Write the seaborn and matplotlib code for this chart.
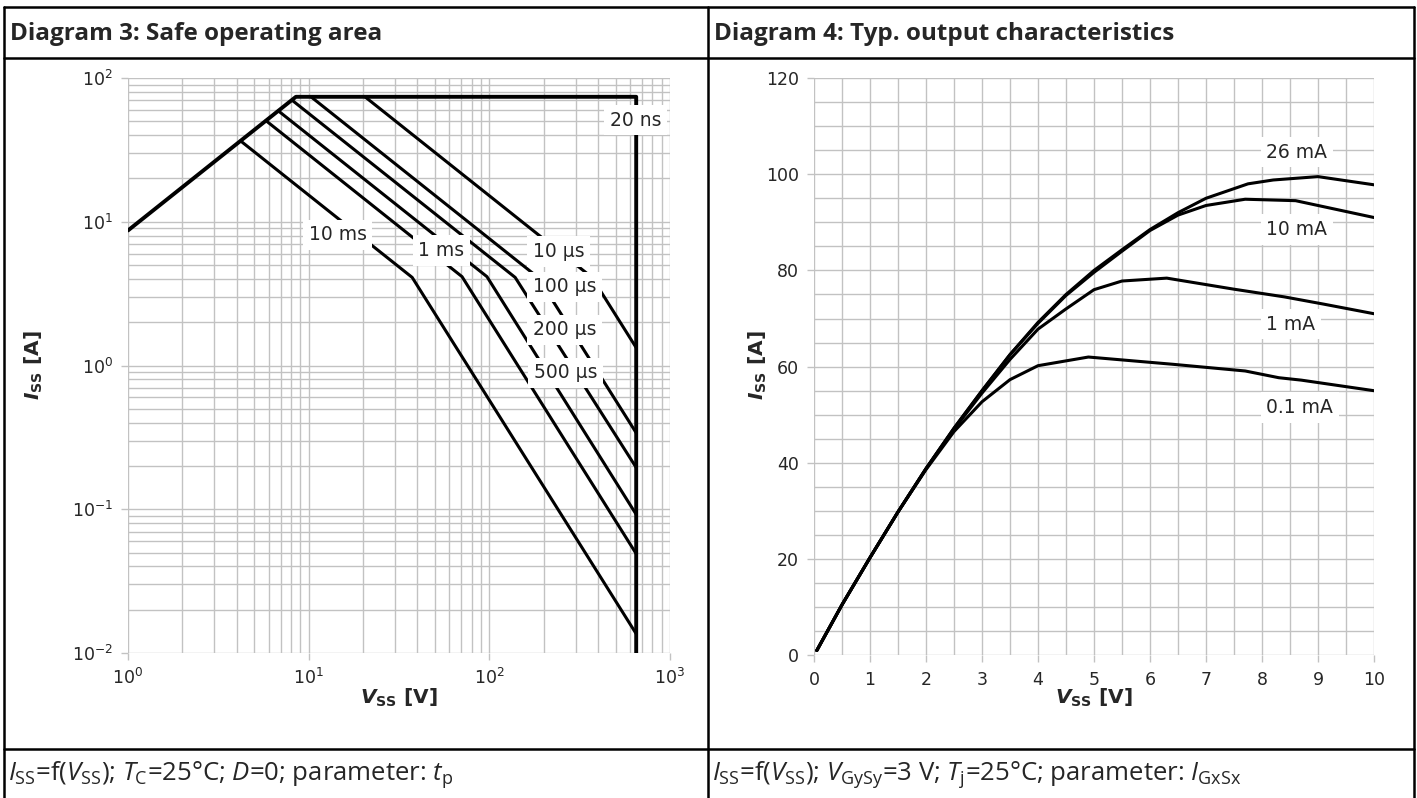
import numpy as np
import pandas as pd
import matplotlib
matplotlib.use("Agg")
import matplotlib.pyplot as plt
import seaborn as sns
from matplotlib.lines import Line2D
from matplotlib.ticker import MultipleLocator, NullFormatter, LogLocator

# ---- Diagram 3: safe operating area (log-log), vertices
soa_names = ["20 ns", "10 µs", "100 µs", "200 µs", "500 µs", "1 ms", "10 ms"]
soa_v = [
    [1.0, 8.5, 650, 650],
    [20.5, 370, 650],
    [10.3, 186, 650],
    [8.1, 139, 650],
    [6.8, 97, 650],
    [5.8, 70.6, 650],
    [4.2, 37.4, 650],
]
soa_i = [
    [8.7, 74, 74, 0.01],
    [74, 4.1, 1.33],
    [74, 4.1, 0.34],
    [70, 4.1, 0.195],
    [59, 4.15, 0.092],
    [50.5, 4.15, 0.049],
    [36.5, 4.1, 0.0136],
]

# ---- Diagram 4: typical output characteristics
out_names = ["26 mA", "10 mA", "1 mA", "0.1 mA"]
out_v = [
    [0.05, 0.5, 1.0, 1.5, 2.0, 2.5, 3.0, 3.5, 4.0, 4.5, 5.0, 5.5, 6.0, 6.5, 7.0, 7.75, 8.2, 9.0, 10.0],
    [0.05, 0.5, 1.0, 1.5, 2.0, 2.5, 3.0, 3.5, 4.0, 4.5, 5.0, 5.5, 6.0, 6.5, 7.0, 7.7, 8.6, 9.0, 10.0],
    [0.05, 0.5, 1.0, 1.5, 2.0, 2.5, 3.0, 3.5, 4.0, 4.5, 5.0, 5.5, 6.3, 7.5, 8.4, 9.1, 10.0],
    [0.05, 0.5, 1.0, 1.5, 2.0, 2.5, 3.0, 3.5, 4.0, 4.9, 6.4, 7.7, 8.3, 8.7, 10.0],
]
out_i = [
    [1.0, 10.5, 20.3, 29.8, 38.8, 47.2, 55.0, 62.5, 69.2, 75.0, 80.0, 84.3, 88.5, 92.0, 95.0, 98.0, 98.8, 99.5, 97.8],
    [1.0, 10.5, 20.3, 29.8, 38.8, 47.2, 55.0, 62.5, 69.0, 74.8, 79.6, 84.0, 88.3, 91.5, 93.5, 94.8, 94.5, 93.5, 91.0],
    [1.0, 10.5, 20.3, 29.8, 38.8, 47.0, 54.5, 61.5, 67.8, 72.0, 76.0, 77.8, 78.4, 76.1, 74.5, 73.0, 71.0],
    [1.0, 10.5, 20.3, 29.8, 38.6, 46.5, 52.7, 57.3, 60.2, 62.0, 60.5, 59.1, 57.7, 57.2, 55.0],
]

W, H = 1417, 798


def fx(x):
    return x / W


def fy(y):
    return 1 - y / H


sns.set_theme(style="whitegrid")
plt.rcParams["font.family"] = ["DejaVu Sans"]
plt.rcParams["mathtext.rm"] = "Open Sans"
plt.rcParams["mathtext.it"] = "Open Sans:italic"
plt.rcParams["mathtext.bf"] = "Open Sans:bold"

GRID = "#c2c2c2"
HEAD_FONT = "Open Sans"

fig = plt.figure(figsize=(W / 100, H / 100), dpi=100)
fig.patch.set_facecolor("white")

ax1 = fig.add_axes([fx(128), fy(653), 542 / W, 575 / H])
ax2 = fig.add_axes([fx(814), fy(655.3), 560 / W, 577.3 / H])

# left: SOA
for name, v, i in zip(soa_names, soa_v, soa_i):
    df = pd.DataFrame({"V": v, "I": i})
    sns.lineplot(data=df, x="V", y="I", ax=ax1, color="black",
                 lw=2.8 if name == "20 ns" else 2.2,
                 estimator=None, sort=False, legend=False)
ax1.set_xscale("log")
ax1.set_yscale("log")
ax1.set_xlim(1, 1000)
ax1.set_ylim(0.01, 100)
ax1.xaxis.set_minor_locator(LogLocator(subs=np.arange(2, 10)))
ax1.yaxis.set_minor_locator(LogLocator(subs=np.arange(2, 10)))
ax1.xaxis.set_minor_formatter(NullFormatter())
ax1.yaxis.set_minor_formatter(NullFormatter())

soa_label_pos = {
    "20 ns": (465, 51), "10 ms": (10.0, 8.1), "1 ms": (40.5, 6.3),
    "10 µs": (174.5, 6.2), "100 µs": (174.5, 3.53), "200 µs": (174.5, 1.77),
    "500 µs": (176, 0.89),
}
for name, (x, y) in soa_label_pos.items():
    ax1.text(x, y, name, ha="left", va="center", fontsize=13.5, zorder=5,
             bbox=dict(boxstyle="square,pad=0.3", fc="white", ec="none"))

# right: output characteristics
for name, v, i in zip(out_names, out_v, out_i):
    df = pd.DataFrame({"V": v, "I": i})
    sns.lineplot(data=df, x="V", y="I", ax=ax2, color="black", lw=2.2,
                 estimator=None, sort=False, legend=False)
ax2.set_xlim(0, 10)
ax2.set_ylim(0, 120)
ax2.xaxis.set_major_locator(MultipleLocator(1))
ax2.xaxis.set_minor_locator(MultipleLocator(0.5))
ax2.yaxis.set_major_locator(MultipleLocator(20))
ax2.yaxis.set_minor_locator(MultipleLocator(5))

out_label_pos = {"26 mA": (8.08, 104.6), "10 mA": (8.08, 88.5),
                 "1 mA": (8.08, 68.8), "0.1 mA": (8.08, 51.5)}
for name, (x, y) in out_label_pos.items():
    ax2.text(x, y, name, ha="left", va="center", fontsize=13.5, zorder=5,
             bbox=dict(boxstyle="square,pad=0.3", fc="white", ec="none"))

for ax in (ax1, ax2):
    ax.grid(True, which="both", color=GRID, lw=1.0)
    ax.set_xlabel("")
    ax.set_ylabel("")
    for s in ax.spines.values():
        s.set_visible(False)
    ax.tick_params(which="major", length=5, color=GRID, width=1.0,
                   labelsize=12.5, pad=6, bottom=True, left=True)
    ax.tick_params(which="minor", length=0)
    ax.set_axisbelow(True)

# axis labels
for cx, cy in [(34, 365), (758, 365)]:
    fig.text(fx(cx), fy(cy), r"$\mathbfit{I}_{\mathbf{SS}}$ [A]", rotation=90,
             ha="center", va="center", fontsize=14.5, fontweight="bold")
for cx in [399, 1094]:
    fig.text(fx(cx), fy(698), r"$\mathbfit{V}_{\mathbf{SS}}$ [V]",
             ha="center", va="center", fontsize=14.5, fontweight="bold")

# table frame
lw = 1.8
for x in [4, 708, 1414]:
    fig.add_artist(Line2D([fx(x), fx(x)], [fy(7), fy(800)], color="black", lw=lw))
for y in [7, 57.5, 748.5]:
    fig.add_artist(Line2D([fx(4), fx(1414)], [fy(y), fy(y)], color="black", lw=lw))

fig.text(fx(10), fy(40.5), "Diagram 3: Safe operating area", family=HEAD_FONT,
         fontweight="bold", fontsize=17.5, va="baseline")
fig.text(fx(714), fy(40.5), "Diagram 4: Typ. output characteristics", family=HEAD_FONT,
         fontweight="bold", fontsize=17.5, va="baseline")

fig.text(fx(8), fy(780), r"$I_{\mathrm{SS}}$=f($V_{\mathrm{SS}}$); $T_{\mathrm{C}}$=25°C; "
         r"$D$=0; parameter: $t_{\mathrm{p}}$", family=HEAD_FONT, fontsize=18.5,
         va="baseline", math_fontfamily="custom")
fig.text(fx(712), fy(780), r"$I_{\mathrm{SS}}$=f($V_{\mathrm{SS}}$); $V_{\mathrm{GySy}}$=3 V; "
         r"$T_{\mathrm{j}}$=25°C; parameter: $I_{\mathrm{GxSx}}$", family=HEAD_FONT,
         fontsize=18.5, va="baseline", math_fontfamily="custom")

fig.savefig("out.png", dpi=100, facecolor="white")
